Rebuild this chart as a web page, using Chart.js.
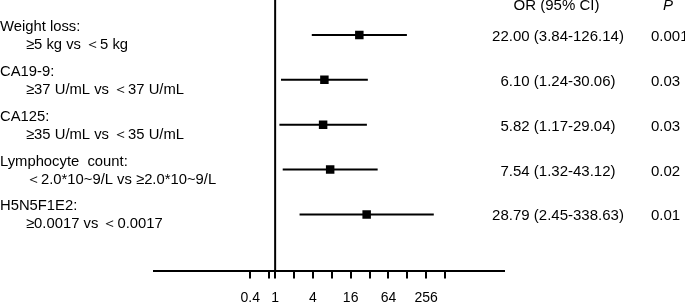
<!DOCTYPE html>
<html>
<head>
<meta charset="utf-8">
<script src="https://cdn.jsdelivr.net/npm/chart.js@4"></script>
<style>
  html, body { margin: 0; padding: 0; background: #fff; }
  #wrap { width: 685px; height: 302px; position: relative; }
</style>
</head>
<body>
<div id="wrap"><canvas id="chart"></canvas></div>
<script>
// rows of the forest plot, top to bottom
var groups = ["Weight loss:", "CA19-9:", "CA125:", "Lymphocyte  count:", "H5N5F1E2:"];
var comparisons = ["≥5 kg vs ＜5 kg", "≥37 U/mL vs ＜37 U/mL", "≥35 U/mL vs ＜35 U/mL",
                   "＜2.0*10~9/L vs ≥2.0*10~9/L", "≥0.0017 vs ＜0.0017"];
var oddsRatio = [22.00, 6.10, 5.82, 7.54, 28.79];
var ciLow = [3.84, 1.24, 1.17, 1.32, 2.45];
var ciHigh = [126.14, 30.06, 29.04, 43.12, 338.63];
var pValues = ["0.001", "0.03", "0.03", "0.02", "0.01"];

// x axis ticks (log scale)
var tickValues = [0.4, 0.8, 1, 2, 4, 8, 16, 32, 64, 128, 256, 512];
var tickLabels = ["0.4", "", "1", "", "4", "", "16", "", "64", "", "256", ""];

var yMin = -0.78, yMax = 5.25;
var font = '"Liberation Sans", Arial, sans-serif';

function fmt(v) { return v.toFixed(2); }

var datasets = [];
// reference line at OR = 1
datasets.push({
  type: 'line',
  data: [{x: 1, y: yMin}, {x: 1, y: yMax}],
  borderColor: '#000', borderWidth: 2, pointRadius: 0
});
// confidence intervals
for (var i = 0; i < groups.length; i++) {
  datasets.push({
    type: 'line',
    data: [{x: ciLow[i], y: i}, {x: ciHigh[i], y: i}],
    borderColor: '#000', borderWidth: 2, pointRadius: 0
  });
}
// point estimates
datasets.push({
  type: 'scatter',
  data: oddsRatio.map(function(v, i) { return {x: v, y: i}; }),
  pointStyle: 'rect', pointRadius: 6, backgroundColor: '#000', borderWidth: 0
});

var textPlugin = {
  id: 'forestText',
  afterDraw: function(chart) {
    var ctx = chart.ctx;
    var ys = chart.scales.y;
    ctx.save();
    ctx.fillStyle = '#000';
    ctx.textBaseline = 'alphabetic';

    // header
    ctx.font = '15px ' + font;
    ctx.textAlign = 'center';
    ctx.fillText('OR (95% CI)', 556.5, 10);
    ctx.font = 'italic 15px ' + font;
    ctx.fillText('P', 668, 10);

    for (var i = 0; i < groups.length; i++) {
      var y = ys.getPixelForValue(i);
      ctx.font = '14.8px ' + font;
      ctx.textAlign = 'left';
      ctx.fillText(groups[i], 0, y - 4);
      ctx.fillText(comparisons[i], 26, y + 14);

      ctx.font = '15px ' + font;
      ctx.textAlign = 'center';
      ctx.fillText(fmt(oddsRatio[i]) + ' (' + fmt(ciLow[i]) + '-' + fmt(ciHigh[i]) + ')', 558, y + 6);
      ctx.textAlign = 'left';
      ctx.fillText(pValues[i], 651, y + 6);
    }
    ctx.restore();
  }
};

var ctx = document.getElementById('chart').getContext('2d');
var myChart = new Chart(ctx, {
  type: 'scatter',
  data: { datasets: datasets },
  plugins: [textPlugin],
  options: {
    responsive: true,
    maintainAspectRatio: false,
    animation: false,
    layout: { autoPadding: false, padding: { left: 154, right: 181, top: 0, bottom: 0 } },
    plugins: { legend: { display: false }, tooltip: { enabled: false } },
    scales: {
      x: {
        type: 'logarithmic',
        min: 0.0117,
        max: 4460,
        afterBuildTicks: function(scale) {
          scale.ticks = tickValues.map(function(v) { return {value: v}; });
        },
        afterFit: function(scale) { scale.height = 31.5; },
        border: { display: true, color: '#000', width: 2 },
        grid: { drawOnChartArea: false, drawTicks: true, tickLength: 8, color: '#000', lineWidth: 2 },
        ticks: {
          autoSkip: false, maxRotation: 0, padding: 11,
          color: '#000', font: { family: font, size: 14 },
          callback: function(value, index) { return tickLabels[index]; }
        }
      },
      y: {
        type: 'linear', min: yMin, max: yMax, reverse: true, display: false
      }
    }
  }
});
</script>
</body>
</html>
